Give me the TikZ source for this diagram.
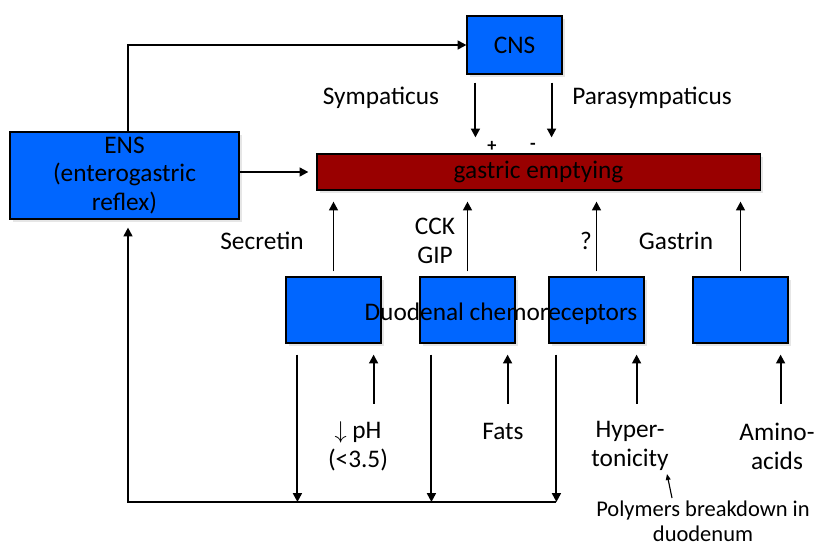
\documentclass[tikz,border=0pt]{standalone}
\usepackage{fontspec}
\setmainfont{Carlito}
\usepackage{xcolor}
\usepackage{tikz}
\usetikzlibrary{arrows.meta,shadows}
\definecolor{boxblue}{HTML}{0066FF}
\definecolor{emptyred}{HTML}{990000}

\tikzset{
    txt/.style={inner sep=1pt,align=center,font=\fontsize{18}{20.5}\selectfont},
    organ/.style={txt,draw=black,line width=0.8pt,fill=boxblue,inner sep=0pt,
        drop shadow={shadow xshift=0.07cm,shadow yshift=-0.07cm,opacity=0.2}},
    flow/.style={line width=1.4pt,-{Triangle[length=0.22cm,width=0.22cm]}},
}

\begin{document}
\begin{tikzpicture}[x=0.025cm,y=-0.025cm]
    \useasboundingbox (0,0) rectangle (819,547);
    \node[organ,minimum width=5.725cm,minimum height=2.175cm] (ens) at (124.5,175.5) {ENS\\(enterogastric\\reflex)};
    \node[organ,minimum width=2.375cm,minimum height=1.45cm] (cns) at (514.5,45) {CNS};
    \node[organ,fill=emptyred,minimum width=11.075cm,minimum height=0.9cm] (bar) at (538.5,172) {gastric emptying};
    \node[organ,minimum width=2.375cm,minimum height=1.65cm] (d1) at (333.5,310) {};
    \node[organ,minimum width=2.375cm,minimum height=1.65cm] (d2) at (467.5,310) {};
    \node[organ,minimum width=2.375cm,minimum height=1.65cm] (d3) at (596.5,310) {};
    \node[organ,minimum width=2.375cm,minimum height=1.65cm] (d4) at (740.5,310) {};
    \node[txt] (duo) at (501,314) {Duodenal chemoreceptors};

    \node[txt] (sym) at (381,98) {Sympaticus};
    \node[txt] (para) at (652,98) {Parasympaticus};
    \node[font=\bfseries\fontsize{13}{13}\selectfont] (plus) at (492,146) {+};
    \node[font=\bfseries\fontsize{13}{13}\selectfont] (minus) at (533,146) {-};
    \node[txt] (sec) at (262,241) {Secretin};
    \node[txt] (cck) at (435,241) {CCK\\GIP};
    \node[txt] (qm) at (586,241) {?};
    \node[txt] (gas) at (676,241) {Gastrin};
    \node[txt] (ph) at (358,446) {$\downarrow$ pH\\(<3.5)};
    \node[txt] (fats) at (503,431) {Fats};
    \node[txt] (hyper) at (630,446) {Hyper-\\tonicity};
    \node[txt] (amino) at (777,446) {Amino-\\acids};
    \node[txt,inner sep=0pt,font=\fontsize{16}{17.5}\selectfont] (poly) at (703,521) {Polymers breakdown in\\duodenum};

    \draw[flow] ([xshift=0.0875cm]ens.north) |- (cns.west);
    \draw[flow,shorten >=0.2cm] (ens.east |- bar.west) -- (bar.west);
    \draw[flow,shorten <=0.2cm,shorten >=0.4cm] ([xshift=0.225cm]cns.south west) -- ([xshift=0.225cm]cns.south west |- bar.north);
    \draw[flow,shorten <=0.2cm,shorten >=0.4cm] ([xshift=-0.275cm]cns.south east) -- ([xshift=-0.275cm]cns.south east |- bar.north);
    \foreach \d in {d1,d2,d3,d4}
        \draw[flow,shorten <=0.125cm,shorten >=0.275cm] (\d.north) -- (\d.north |- bar.south);
    \foreach \d in {d1,d2,d3,d4}
        \draw[flow,shorten >=0.275cm] ([xshift=-0.2cm,yshift=-1.5cm]\d.south east) -- ([xshift=-0.2cm]\d.south east);

    \coordinate (loop) at (128,502);
    \draw[flow,shorten <=0.275cm] ([xshift=0.3cm]d1.south west) -- ([xshift=0.3cm]d1.south west |- loop);
    \draw[flow,shorten <=0.275cm] ([xshift=0.3cm]d2.south west) -- ([xshift=0.3cm]d2.south west |- loop);
    \draw[flow,shorten <=0.275cm] ([xshift=0.2cm]d3.south west) -- ([xshift=0.2cm]d3.south west |- loop);
    \draw[flow,shorten >=0.2cm] ([xshift=0.2cm]d3.south west |- loop) -- (loop) -- (ens.south -| loop);

    \coordinate (pb) at (672,498);
    \coordinate (pt) at (667,474);
    \draw[line width=0.8pt,-{Triangle[length=0.15cm,width=0.12cm]}] (pb) -- (pt);
\end{tikzpicture}
\end{document}
